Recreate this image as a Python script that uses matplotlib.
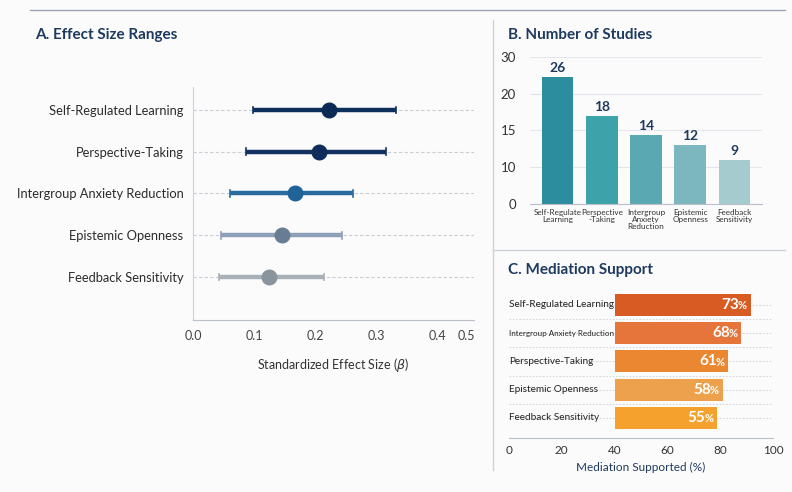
import numpy as np
import matplotlib.pyplot as plt
from matplotlib.lines import Line2D

plt.rcParams['font.family'] = ['Lato', 'DejaVu Sans']

# ---- data ----
effect_labels = ['Self-Regulated Learning', 'Perspective-Taking', 'Intergroup Anxiety Reduction',
                 'Epistemic Openness', 'Feedback Sensitivity']
effect_mid = [0.223, 0.207, 0.167, 0.146, 0.125]
effect_lo = [0.098, 0.087, 0.061, 0.046, 0.043]
effect_hi = [0.333, 0.316, 0.262, 0.244, 0.215]
effect_line_colors = ['#0e2e5c', '#12315e', '#2a6b9f', '#8ea0b8', '#a8b0b8']
effect_dot_colors = ['#0b2a56', '#0f2d5a', '#1f6399', '#667d94', '#8a949c']

study_labels = ['Self-Regulate\nLearning', 'Perspective\n-Taking', 'Intergroup\nAnxiety\nReduction',
                'Epistemic\nOpenness', 'Feedback\nSensitivity']
study_counts = [26, 18, 14, 12, 9]
study_colors = ['#2b8d9d', '#3ea2aa', '#5aa9b2', '#7cb7bf', '#a5cbcf']
study_tick_labels = ['0', '10', '15', '20', '30']

med_labels = ['Self-Regulated Learning', 'Intergroup Anxiety Reduction', 'Perspective-Taking',
              'Epistemic Openness', 'Feedback Sensitivity']
med_pct = [73, 68, 61, 58, 55]
med_colors = ['#d85b24', '#e6753b', '#ec8731', '#eea14d', '#f4a22d']

navy = '#1e3a5f'
W, H = 792, 492
fig = plt.figure(figsize=(W / 100, H / 100), dpi=100, facecolor='#fbfbfc')


def px_axes(l, t, r, b):
    return fig.add_axes([l / W, 1 - b / H, (r - l) / W, (b - t) / H])


# frame lines
fig.add_artist(Line2D([30 / W, 785 / W], [1 - 10 / H, 1 - 10 / H], color='#9ba6b2', lw=1))
fig.add_artist(Line2D([493 / W, 493 / W], [1 - 20 / H, 1 - 470 / H], color='#cdd2d8', lw=1))
fig.add_artist(Line2D([493 / W, 785 / W], [1 - 250 / H, 1 - 250 / H], color='#cdd2d8', lw=1))

fig.text(35 / W, 1 - 35 / H, 'A. Effect Size Ranges', fontsize=11, fontweight='bold', color=navy, va='center')
fig.text(508 / W, 1 - 35 / H, 'B. Number of Studies', fontsize=11, fontweight='bold', color=navy, va='center')
fig.text(508 / W, 1 - 270 / H, 'C. Mediation Support', fontsize=11, fontweight='bold', color=navy, va='center')

# ---- Panel A ----
axA = px_axes(193, 87, 474, 320)
axA.set_facecolor('none')
ys = np.arange(len(effect_labels))
for y in ys:
    axA.axhline(y, color='#c9ced4', lw=0.8, ls=(0, (3, 2)), zorder=0)
for i, y in enumerate(ys):
    axA.plot([effect_lo[i], effect_hi[i]], [y, y], color=effect_line_colors[i], lw=3.2,
             solid_capstyle='butt', zorder=2)
    for xe in (effect_lo[i], effect_hi[i]):
        axA.plot([xe, xe], [y - 0.08, y + 0.08], color=effect_line_colors[i], lw=1.2, zorder=2)
    axA.plot(effect_mid[i], y, 'o', ms=10.5, color=effect_dot_colors[i], zorder=3)
axA.set_ylim(len(ys) - 1 + 1.03, -0.55)
axA.set_xlim(0, 0.46)
axA.set_yticks(ys)
axA.set_yticklabels(effect_labels, fontsize=9.3, color='#2b2b2b')
axA.set_xticks([0, 0.1, 0.2, 0.3, 0.4, 0.448])
axA.set_xticklabels(['0.0', '0.1', '0.2', '0.3', '0.4', '0.5'], fontsize=9, color='#444444')
axA.tick_params(length=0, pad=7)
axA.tick_params(axis='y', pad=7)
for s in ['top', 'right']:
    axA.spines[s].set_visible(False)
axA.spines['left'].set_color('#cfd4da')
axA.spines['bottom'].set_color('#b9c0c8')
axA.set_xlabel('Standardized Effect Size ($\\beta$)', fontsize=9, color='#333333', labelpad=10)

# ---- Panel B ----
axB = px_axes(530, 57, 762, 204)
axB.set_facecolor('none')
xb = np.arange(len(study_counts))
axB.bar(xb, study_counts, width=0.72, color=study_colors, zorder=2)
for x, v in zip(xb, study_counts):
    axB.text(x, v + 0.6, str(v), ha='center', va='bottom', fontsize=10, fontweight='bold', color=navy)
axB.set_ylim(0, 30)
axB.set_xlim(-0.62, 4.62)
axB.set_yticks(np.linspace(0, 30, 5))
axB.set_yticklabels(study_tick_labels, fontsize=9.5, color='#333333')
axB.yaxis.grid(True, color='#e3e6ea', lw=0.8, zorder=0)
axB.set_xticks(xb)
axB.set_xticklabels(study_labels, fontsize=5.9, color='#333333', linespacing=1.05)
axB.tick_params(length=0)
axB.tick_params(axis='y', pad=10)
for s in ['top', 'right', 'left']:
    axB.spines[s].set_visible(False)
axB.spines['bottom'].set_color('#b9c0c8')

# ---- Panel C ----
axC = px_axes(509, 290, 773, 438)
axC.set_facecolor('none')
yc = np.arange(len(med_pct))
axC.set_ylim(len(yc) - 1 + 0.71, -0.53)
axC.set_xlim(0, 100)
for y in yc[:-1]:
    axC.axhline(y + 0.5, color='#d3d7dc', lw=0.8, ls=(0, (1.5, 1.5)), zorder=0)
for y in yc:
    axC.axhline(y, color='#d3d7dc', lw=0.8, ls=(0, (1.5, 1.5)), zorder=0)
for i, lab in enumerate(med_labels):
    fs = 5.8 if len(lab) > 24 else 7.2
    axC.text(0, yc[i], lab, fontsize=fs, color='#222222', va='center', ha='left')
axC.set_yticks([])
axC.set_xticks([0, 20, 40, 60, 80, 100])
axC.set_xticklabels(['0', '20', '40', '60', '80', '100'], fontsize=8.5, color='#333333')
axC.tick_params(length=0, pad=5)
for s in ['top', 'right', 'left']:
    axC.spines[s].set_visible(False)
axC.spines['bottom'].set_color('#b9c0c8')
axC.set_xlabel('Mediation Supported (%)', fontsize=8.5, color=navy, labelpad=4)

# bars sit on their own scale, starting right of the label column
axCb = px_axes(615, 290, 801, 438)
axCb.set_facecolor('none')
axCb.barh(yc, med_pct, height=0.78, color=med_colors, zorder=2)
axCb.set_ylim(axC.get_ylim())
axCb.set_xlim(0, 100)
axCb.axis('off')
for y, v in zip(yc, med_pct):
    axCb.annotate(str(v), (v, y), xytext=(-8.5, 0), textcoords='offset points', ha='right', va='center',
                  fontsize=11, fontweight='bold', color='white')
    axCb.annotate('%', (v, y), xytext=(-3, -0.5), textcoords='offset points', ha='right', va='center',
                  fontsize=8, fontweight='bold', color='white')

fig.savefig('out.png', dpi=100, facecolor=fig.get_facecolor())
